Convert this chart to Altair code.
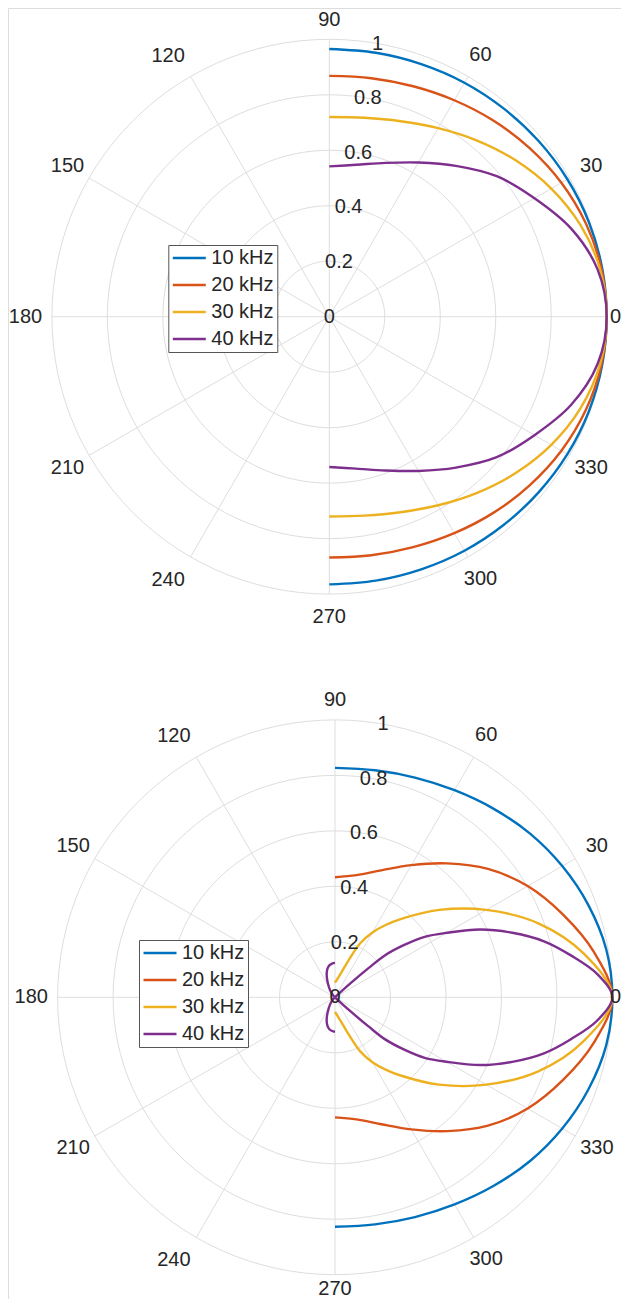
import altair as alt
import pandas as pd

FONT = "Liberation Sans"
TXT = "#262626"
GRID = "#dedede"

SERIES = ["10 kHz", "20 kHz", "30 kHz", "40 kHz"]
COLORS = ["#0072BD", "#D95319", "#EDB120", "#7E2F8E"]

# ---- top panel: r at angles 0..90 deg (pattern is symmetric about 0 deg)
top_angles = [0, 10, 20, 30, 40, 50, 60, 70, 80, 90]
top_10k = [1.0, 0.999, 0.996, 0.991, 0.985, 0.979, 0.974, 0.969, 0.966, 0.965]
top_20k = [1.0, 0.996, 0.984, 0.966, 0.944, 0.922, 0.901, 0.884, 0.873, 0.868]
top_30k = [1.0, 0.991, 0.964, 0.924, 0.877, 0.829, 0.785, 0.750, 0.728, 0.720]
top_40k = [1.0, 0.982, 0.928, 0.854, 0.788, 0.710, 0.642, 0.590, 0.556, 0.542]

# ---- bottom panel
bot_angles = [0, 10, 20, 30, 40, 50, 60, 70, 80, 90]
bot_10k = [1.0, 0.993, 0.972, 0.946, 0.918, 0.888, 0.862, 0.843, 0.831, 0.827]
bot_20k = [1.0, 0.947, 0.874, 0.802, 0.720, 0.630, 0.550, 0.487, 0.447, 0.433]
bot_30k_angles = [0, 10, 20, 30, 40, 50, 55, 60, 65, 70, 75, 80, 90]
bot_30k = [1.0, 0.91, 0.78, 0.63, 0.49, 0.368, 0.318, 0.27, 0.215, 0.14, 0.096, 0.074, 0.053]
bot_40k_angles = [0, 5, 10, 15, 20, 25, 30, 34, 37, 40, 41, 42, 43, 45, 50, 55,
                  60, 65, 70, 75, 80, 85, 90]
bot_40k = [1.0, 0.95, 0.865, 0.78, 0.68, 0.578, 0.465, 0.39, 0.315, 0.236, 0.16,
           0.08, 0.0, -0.008, -0.018, -0.03, -0.045, -0.065, -0.088, -0.106,
           -0.117, -0.122, -0.124]

# ---- polar axes
tick_angles = [0, 30, 60, 90, 120, 150, 180, 210, 240, 270, 300, 330]
tick_labels = ["0", "30", "60", "90", "120", "150", "180", "210", "240", "270", "300", "330"]
ring_values = [0.2, 0.4, 0.6, 0.8, 1.0]
rtick_values = [0, 0.2, 0.4, 0.6, 0.8, 1.0]
rtick_labels = ["0", "0.2", "0.4", "0.6", "0.8", "1"]
RTICK_ANGLE = 80
PANELS = ["a", "b"]

# ---- layout (pixels)
W, H = 613, 1291
R = 277.4                       # pixels per unit radius
CA = (329.3 - 8, 316.7 - 8)     # centre of panel a inside plot area
CB = (335.0 - 8, 997.3 - 8)     # centre of panel b
OXB = (CB[0] - CA[0]) / R
OYB = -(CB[1] - CA[1]) / R
XMAX = (W - CA[0]) / R
YMIN = (CA[1] - H) / R
xs = alt.Scale(domain=[-CA[0] / R, XMAX], nice=False, zero=False)
ys = alt.Scale(domain=[YMIN, CA[1] / R], nice=False, zero=False)
X = alt.X("px:Q", scale=xs, axis=None)
Y = alt.Y("py:Q", scale=ys, axis=None)

XY = dict(
    px=f"(datum.panel == 'b' ? {OXB} : 0) + datum.r * cos(datum.theta * PI / 180)",
    py=f"(datum.panel == 'b' ? {OYB} : 0) + datum.r * sin(datum.theta * PI / 180)")


def curve_df(angles, values, name, panel):
    ang = [-a for a in angles[::-1]] + angles[1:]
    rr = values[::-1] + values[1:]
    return pd.DataFrame({"theta": ang, "r": rr, "series": name, "panel": panel,
                         "order": list(range(len(ang)))})


ring_rows, spoke_rows, lab_rows, rlab_rows = [], [], [], []
for p in PANELS:
    for rv in ring_values:
        for th in range(0, 361, 3):
            ring_rows.append({"panel": p, "ring": f"{p}{rv}", "theta": th, "r": rv})
    for th, lb in zip(tick_angles, tick_labels):
        spoke_rows.append({"panel": p, "theta": th, "r": 1.0})
        lab_rows.append({"panel": p, "theta": th, "label": lb})
    for rv, lb in zip(rtick_values, rtick_labels):
        rlab_rows.append({"panel": p, "theta": RTICK_ANGLE, "r": rv, "label": lb})
rings_df = pd.DataFrame(ring_rows)
spokes_df = pd.DataFrame(spoke_rows)
labels_df = pd.DataFrame(lab_rows)
rlabels_df = pd.DataFrame(rlab_rows)

top_curves = pd.concat([curve_df(top_angles, top_10k, SERIES[0], "a"),
                        curve_df(top_angles, top_20k, SERIES[1], "a"),
                        curve_df(top_angles, top_30k, SERIES[2], "a"),
                        curve_df(top_angles, top_40k, SERIES[3], "a")], ignore_index=True)
bot_curves = pd.concat([curve_df(bot_angles, bot_10k, SERIES[0], "b"),
                        curve_df(bot_angles, bot_20k, SERIES[1], "b"),
                        curve_df(bot_30k_angles, bot_30k, SERIES[2], "b"),
                        curve_df(bot_40k_angles, bot_40k, SERIES[3], "b")], ignore_index=True)


def legend(lx, ly):
    return alt.Legend(title=None, orient="none", legendX=lx, legendY=ly,
                      symbolType="M-2,0L2,0", symbolSize=272, symbolStrokeWidth=2.5,
                      symbolOffset=8, labelOffset=12, labelFontSize=20,
                      labelFont=FONT, labelColor=TXT, strokeColor="#555555",
                      fillColor="white", padding=3, rowPadding=7)


rings = alt.Chart(rings_df).transform_calculate(**XY).mark_line(
    color=GRID, strokeWidth=1).encode(x=X, y=Y, detail="ring:N", order="theta:Q")
spokes = alt.Chart(spokes_df).transform_calculate(
    zx=f"datum.panel == 'b' ? {OXB} : 0", zy=f"datum.panel == 'b' ? {OYB} : 0",
    **XY).mark_rule(color=GRID, strokeWidth=1).encode(
    x=alt.X("zx:Q", scale=xs, axis=None), y=alt.Y("zy:Q", scale=ys, axis=None),
    x2="px:Q", y2="py:Q")

lines_a = alt.Chart(top_curves).transform_calculate(**XY).mark_line(
    strokeWidth=2.4, interpolate="catmull-rom").encode(
    x=X, y=Y, order="order:Q",
    color=alt.Color("series:N", scale=alt.Scale(range=COLORS),
                    legend=legend(CA[0] - 161, CA[1] - 71.7)))
lines_b = alt.Chart(bot_curves).transform_calculate(**XY).mark_line(
    strokeWidth=2.4, interpolate="catmull-rom").encode(
    x=X, y=Y, order="order:Q",
    stroke=alt.Stroke("series:N", scale=alt.Scale(range=COLORS),
                      legend=legend(CB[0] - 196, CB[1] - 57.3)))


def lab(filt, rad, **mk):
    return alt.Chart(labels_df).transform_filter(filt).transform_calculate(
        r=str(rad)).transform_calculate(**XY).mark_text(
        font=FONT, fontSize=20, color=TXT, **mk).encode(x=X, y=Y, text="label:N")


l_other = lab("datum.theta % 90 != 0 && datum.theta != 120 && datum.theta != 240",
              1.09, align="center", baseline="middle")
l_wide = lab("datum.theta == 120 || datum.theta == 240", 1.09,
             align="center", baseline="middle", dx=-10, dy=1)
# the 0-degree label is kept inside the drawing's right edge
l_0 = alt.Chart(labels_df).transform_filter("datum.theta == 0").transform_calculate(
    r="1.035").transform_calculate(**XY).transform_calculate(
    px0=f"min(datum.px + 0.04, {XMAX})").mark_text(
    font=FONT, fontSize=20, color=TXT, align="right", baseline="middle").encode(
    x=alt.X("px0:Q", scale=xs, axis=None), y=Y, text="label:N")
l_90 = lab("datum.theta == 90", 1.035, align="center", baseline="bottom")
l_180 = lab("datum.theta == 180", 1.035, align="right", baseline="middle")
# the 270-degree label is kept inside the drawing's bottom edge
l_270 = alt.Chart(labels_df).transform_filter("datum.theta == 270").transform_calculate(
    r="1.045").transform_calculate(**XY).transform_calculate(
    py0=f"max(datum.py - 0.075, {YMIN})").mark_text(
    font=FONT, fontSize=20, color=TXT, align="center", baseline="bottom").encode(
    x=X, y=alt.Y("py0:Q", scale=ys, axis=None), text="label:N")

rlab = alt.Chart(rlabels_df).transform_calculate(**XY).mark_text(
    font=FONT, fontSize=20, color=TXT, align="center", baseline="middle").encode(
    x=X, y=Y, text="label:N")

chart = alt.layer(rings, spokes, lines_a, lines_b, l_other, l_wide, l_0, l_90,
                  l_180, l_270, rlab).properties(
    width=W, height=H, padding=0,
    autosize=alt.AutoSizeParams(type="none")).configure_view(
    stroke="transparent", strokeWidth=0).configure(background="white")

chart.save("out.html", embed_options={"renderer": "svg", "actions": False})
